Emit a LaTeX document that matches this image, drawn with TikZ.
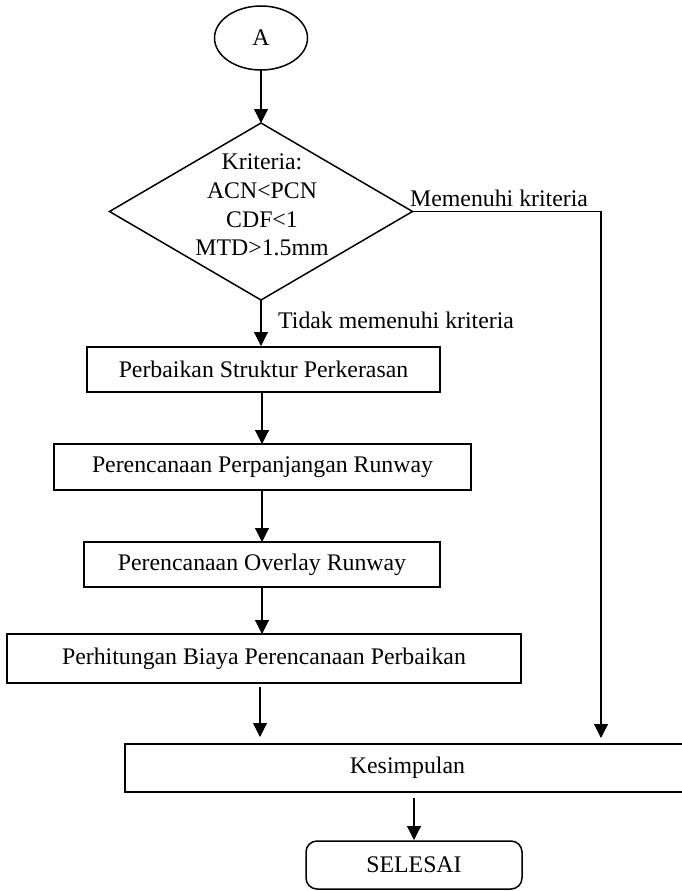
\documentclass[tikz,border=0pt]{standalone}
\usepackage{fontspec}
\setmainfont{Liberation Serif}
\usetikzlibrary{arrows.meta,shapes.geometric}
\begin{document}
\begin{tikzpicture}[x=1pt,y=-1pt,
  font=\fontsize{23.8}{28.7}\selectfont,
  shapeline/.style={draw=black,line width=1.5pt,inner sep=0pt,outer sep=0pt},
  procbox/.style={shapeline,rectangle},
  conn/.style={line width=1.1pt,-{Triangle[width=14pt,length=14pt]}},
  lbl/.style={inner sep=0pt,anchor=base west}]
\useasboundingbox (0,0) rectangle (682,891);
\node[shapeline,ellipse,minimum width=93pt,minimum height=64pt] (start) at (261,38) {A};
\node[shapeline,diamond,minimum width=303pt,minimum height=177pt] (dec) at (261,211.5) {};
\node[align=center,inner sep=0pt] (dectext) at (262,205) {Kriteria:\\ACN<PCN\\CDF<1\\MTD>1.5mm};
\node[procbox,minimum width=353pt,minimum height=45pt] (b1) at (263.5,369.5) {Perbaikan Struktur Perkerasan};
\node[procbox,minimum width=417pt,minimum height=46pt] (b2) at (262.5,467) {Perencanaan Perpanjangan Runway};
\node[procbox,minimum width=356pt,minimum height=45pt] (b3) at (262,564.5) {Perencanaan Overlay Runway};
\node[procbox,minimum width=514pt,minimum height=49pt] (b4) at (264,658.5) {Perhitungan Biaya Perencanaan Perbaikan};
\node[procbox,minimum width=565pt,minimum height=48pt] (kes) at (407.5,768) {Kesimpulan};
\node[procbox,rounded corners=11pt,minimum width=216pt,minimum height=48pt] (end) at (414,865) {SELESAI};
\node[lbl] (yes) at (410,206) {Memenuhi kriteria};
\node[lbl] (no) at (278,328) {Tidak memenuhi kriteria};
\coordinate (turn) at (601,211.5);
\coordinate (kin) at (601,738);
\coordinate (b4out) at (260,687);
\coordinate (b4in) at (260,737);
\coordinate (kout) at (414,798);
\coordinate (ein) at (414,840);
\draw[conn] (start.south) -- (dec.north);
\draw[conn] (dec.south) -- (261,346);
\draw[conn] (262,392) -- (262,444);
\draw[conn] (262,490) -- (262,542);
\draw[conn] (262,587) -- (262,634);
\draw[conn] (b4out) -- (b4in);
\draw[conn] (dec.east) -- (turn) -- (kin);
\draw[conn] (kout) -- (ein);
\end{tikzpicture}
\end{document}
